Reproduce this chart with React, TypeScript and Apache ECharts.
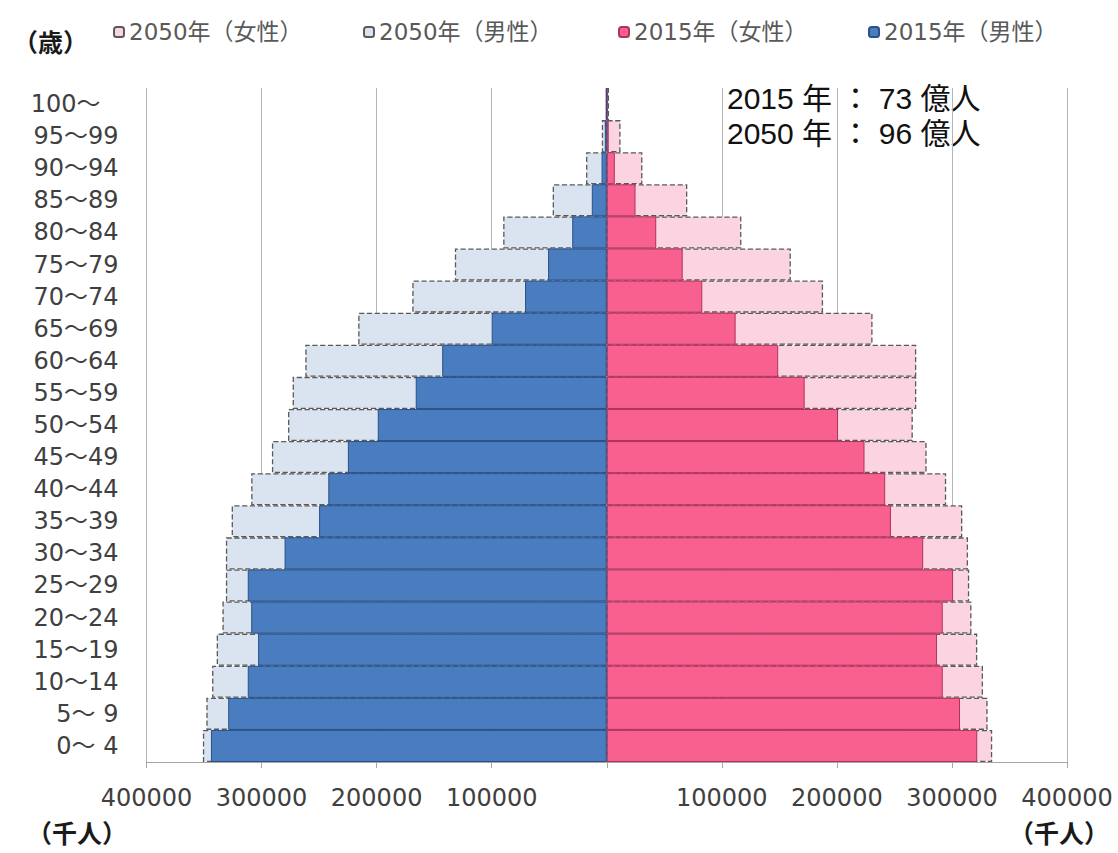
import React, { useEffect, useRef } from "react";
import * as echarts from "echarts";

const ageGroups = [
  "0～ 4", "5～ 9", "10～14", "15～19", "20～24", "25～29", "30～34", "35～39",
  "40～44", "45～49", "50～54", "55～59", "60～64", "65～69", "70～74", "75～79",
  "80～84", "85～89", "90～94", "95～99", "100～",
];

// thousands of people
const male2015 = [
  344000, 329000, 312000, 303000, 309000, 312000, 280000, 250000, 242000, 225000,
  199000, 166000, 143000, 100000, 71000, 51000, 30000, 13000, 4500, 1700, 400,
];
const female2015 = [
  322000, 307000, 292000, 287000, 292000, 301000, 275000, 247000, 242000, 224000,
  201000, 172000, 149000, 112000, 83000, 66000, 43000, 25000, 7000, 1700, 500,
];
const male2050 = [
  351000, 348000, 343000, 339000, 334000, 331000, 331000, 326000, 309000, 291000,
  277000, 273000, 262000, 216000, 169000, 132000, 90000, 47000, 18000, 4300, 900,
];
const female2050 = [
  335000, 331000, 327000, 322000, 317000, 315000, 314000, 309000, 295000, 278000,
  266000, 269000, 269000, 231000, 188000, 160000, 117000, 70000, 31000, 12000, 2000,
];

const legendNames = ["2050年（女性）", "2050年（男性）", "2015年（女性）", "2015年（男性）"];
const totalsText = ["2015 年 ： 73 億人", "2050 年 ： 96 億人"];
const xTickValues = [-400000, -300000, -200000, -100000, 0, 100000, 200000, 300000, 400000];

export default function App() {
  const ref = useRef<HTMLDivElement>(null);
  useEffect(() => {
    if (!ref.current) return;
    const chart = echarts.init(ref.current, null, { renderer: "svg" });
    const font = "DejaVu Sans, Noto Sans CJK JP, sans-serif";
    const legendLefts = [113, 363, 618, 868];
    const option: any = {
      animation: false,
      backgroundColor: "#ffffff",
      grid: { left: 146.5, right: 51, top: 88, bottom: 91, containLabel: false },
      legend: legendNames.map((n, i) => ({
        data: [n],
        left: legendLefts[i],
        top: 20,
        padding: 0,
        itemWidth: 10,
        itemHeight: 10,
        selectedMode: false,
        textStyle: { fontFamily: font, fontSize: 23, color: "#595959", lineHeight: 24 },
      })),
      xAxis: {
        type: "value",
        min: xTickValues[0],
        max: xTickValues[xTickValues.length - 1],
        interval: 100000,
        axisLine: { show: true, lineStyle: { color: "#a6a6a6", width: 1 } },
        axisTick: { show: true, length: 6, lineStyle: { color: "#a6a6a6" } },
        splitLine: { show: true, lineStyle: { color: "#b4b4b4", width: 1 } },
        axisLabel: {
          margin: 24,
          fontFamily: font,
          fontSize: 24,
          color: "#404040",
          formatter: (v: number) => (v === 0 ? "" : String(Math.abs(v))),
        },
      },
      yAxis: {
        type: "category",
        data: ageGroups,
        axisLine: { show: false },
        axisTick: { show: false },
        splitLine: { show: false },
        axisLabel: {
          align: "right",
          margin: 28,
          fontFamily: font,
          fontSize: 24,
          color: "#404040",
          interval: 0,
          formatter: (v: string) => (v === ageGroups[ageGroups.length - 1] ? `{p|${v}}` : v),
          rich: {
            p: { padding: [0, 18, 0, 0], fontFamily: font, fontSize: 24, color: "#404040" },
          },
        },
      },
      series: [
        {
          name: legendNames[0],
          type: "bar",
          barGap: "-100%",
          barCategoryGap: "0%",
          data: female2050,
          itemStyle: { color: "#fcd3e1", borderColor: "#5a5a5a", borderWidth: 1.3, borderType: "dashed" },
        },
        {
          name: legendNames[1],
          type: "bar",
          barGap: "-100%",
          barCategoryGap: "0%",
          data: male2050.map((v) => -v),
          itemStyle: { color: "#dae4f1", borderColor: "#5a5a5a", borderWidth: 1.3, borderType: "dashed" },
        },
        {
          name: legendNames[2],
          type: "bar",
          barGap: "-100%",
          barCategoryGap: "0%",
          data: female2015,
          itemStyle: { color: "#f8618f", borderColor: "#b0335c", borderWidth: 1 },
        },
        {
          name: legendNames[3],
          type: "bar",
          barGap: "-100%",
          barCategoryGap: "0%",
          data: male2015.map((v) => -v),
          itemStyle: { color: "#4a7dbf", borderColor: "#2a5086", borderWidth: 1 },
        },
      ],
      graphic: [
        {
          type: "text",
          left: 13,
          top: 28,
          style: { text: "（歳）", font: "bold 25px Noto Sans CJK JP", fill: "#1a1a1a" },
        },
        {
          type: "text",
          left: 27,
          top: 819,
          style: { text: "（千人）", font: "bold 25px Noto Sans CJK JP", fill: "#1a1a1a" },
        },
        {
          type: "text",
          left: 1009,
          top: 819,
          style: { text: "（千人）", font: "bold 25px Noto Sans CJK JP", fill: "#1a1a1a" },
        },
        {
          type: "text",
          left: 727,
          top: 83,
          style: { text: totalsText[0], font: "30px Liberation Sans, Noto Sans CJK JP", fill: "#111111" },
        },
        {
          type: "text",
          left: 727,
          top: 118,
          style: { text: totalsText[1], font: "30px Liberation Sans, Noto Sans CJK JP", fill: "#111111" },
        },
      ],
    };
    chart.setOption(option);
    return () => chart.dispose();
  }, []);
  return (
    <div
      ref={ref}
      style={{ position: "fixed", left: 0, top: 0, width: 1118, height: 853, background: "#fff" }}
    />
  );
}
